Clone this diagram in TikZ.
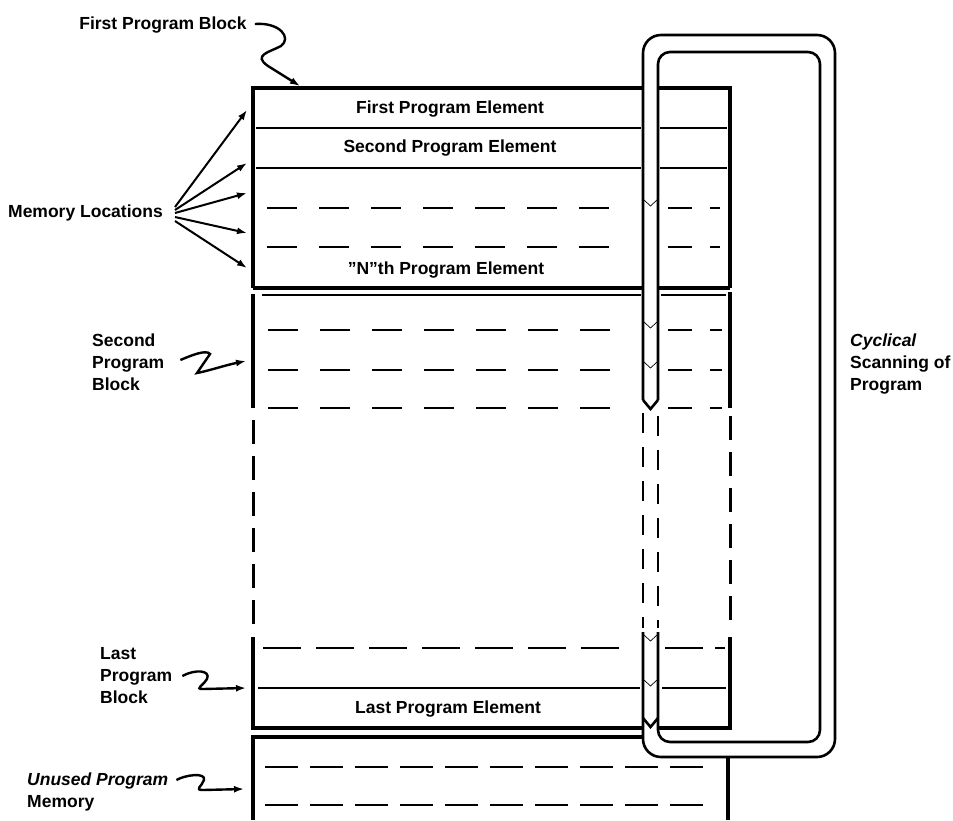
\documentclass[tikz,border=0pt]{standalone}
\usepackage{fontspec}
\setmainfont{Liberation Sans}
\usetikzlibrary{arrows.meta}
\tikzset{
  lbl/.style   ={font=\fontsize{17.5}{22}\selectfont\bfseries, align=left, inner sep=0pt},
  elem/.style  ={lbl, align=center},
  edge/.style  ={line width=3.6pt},
  sep/.style   ={line width=2.2pt},
  dsh/.style   ={line width=2.2pt, dash pattern=on 30pt off 22pt},
  vdsh/.style  ={line width=3pt, dash pattern=on 24pt off 12pt},
  tube/.style  ={line width=2.6pt},
  notch/.style ={line width=0.7pt},
  arr/.style   ={-{Latex[length=10pt,width=7pt]}, line width=2pt},
  squig/.style ={arr, line width=2.4pt},
}

\begin{document}
\begin{tikzpicture}[x=1pt, y=-1pt]
  \useasboundingbox (0,0) rectangle (953,820);

  % first program block
  \draw[edge] (253,288) -- (253,88) -- (643,88);
  \draw[edge] (658,88) -- (730,88) -- (730,288);
  \draw[edge] (253,288) -- (643,288) (658,288) -- (730,288);
  \draw[sep] (256,128) -- (641,128) (660,128) -- (727,128);
  \draw[sep] (256,168) -- (641,168) (660,168) -- (727,168);
  \foreach \y in {208,247} {
    \draw[dsh] (267,\y) -- (609,\y);
    \draw[dsh, dash pattern=on 24pt off 18pt] (668,\y) -- (720,\y);
  }
  \node[elem] (firstel) at (450,109) {First Program Element};
  \node[elem] (secondel) at (450,148) {Second Program Element};
  \node[elem] (nthel) at (446,270) {''N''th Program Element};

  % second program block
  \draw[sep, line width=2.6pt] (262,295) -- (641,295) (661,295) -- (726,295);
  \draw[edge] (253,294) -- (253,408);
  \draw[edge] (730,292) -- (730,408);
  \foreach \y in {330,370,408} {
    \draw[dsh] (268,\y) -- (610,\y);
    \draw[dsh, dash pattern=on 24pt off 18pt] (668,\y) -- (722,\y);
  }

  % blocks in between
  \draw[vdsh] (253,420) -- (253,624);
  \draw[vdsh] (730,416) -- (730,622);
  \draw[vdsh, line width=2.6pt, dash pattern=on 20pt off 14pt]
       (643,413) -- (643,628) (658,416) -- (658,628);

  % last program block
  \draw[edge] (253,637) -- (253,728) -- (643,728);
  \draw[edge] (658,728) -- (730,728) -- (730,637);
  \draw[dsh, dash pattern=on 38pt off 15pt] (263,648) -- (620,648);
  \draw[dsh, dash pattern=on 38pt off 12pt] (665,648) -- (725,648);
  \draw[sep] (258,688) -- (640,688) (662,688) -- (726,688);
  \node[elem] (lastel) at (448,709) {Last Program Element};

  % unused program memory
  \draw[edge] (253,820) -- (253,737) -- (643,737);
  \draw[edge] (728,758) -- (728,820);
  \foreach \y in {767,805}
    \draw[dsh, dash pattern=on 33pt off 12pt] (265,\y) -- (715,\y);

  % scanning loop
  \draw[tube, rounded corners=18pt] (643,400) |- (835,35) |- (643,757) -- (643,632);
  \draw[tube, rounded corners=12pt] (658,400) |- (820,52) |- (658,742) -- (658,632);
  \draw[tube] (643,400) -- (650.5,409) -- (658,400);
  \draw[tube] (643,718) -- (650.5,727) -- (658,718);
  \foreach \y in {206,328,368,641,686}
    \draw[notch] (644,{\y-6}) -- (650.5,\y) -- (657,{\y-6});

  % labels
  \node[lbl] (fpb) at (163,25) {First Program Block};
  \node[lbl, anchor=east] (memloc) at (163,213) {Memory Locations};
  \node[lbl, anchor=west] (spb) at (92,362) {Second\\Program\\Block};
  \node[lbl, anchor=west] (lpb) at (100,676) {Last\\Program\\Block};
  \node[lbl, anchor=west] (upm) at (27,792) {\textit{Unused Program}\\Memory};
  \node[lbl, anchor=west] (csp) at (850,364) {\textit{Cyclical}\\Scanning of\\Program};

  \coordinate (fpbtip) at (300,86);
  \coordinate (spbtip) at (246,361);
  \coordinate (lpbtip) at (246,688);
  \coordinate (upmtip) at (244,789);

  % pointers
  \draw[squig] (fpb.east) ++(8,-1) .. controls (280,22) and (292,38) .. (281,46)
       .. controls (270,52) and (252,55) .. (268,66) -- (fpbtip);
  \draw[squig] (spb.east) ++(16,-2) .. controls (190,356) and (206,349) .. (210,354)
       -- (197,373) .. controls (208,371) and (226,365) .. (spbtip);
  \draw[squig] (lpb.east) ++(10,0) .. controls (195,669) and (211,670) .. (207,679)
       .. controls (204,685) and (194,689) .. (203,689) -- (lpbtip);
  \draw[squig] (upm.east) ++(8,-12) .. controls (185,775) and (206,772) .. (204,780)
       .. controls (202,786) and (194,790) .. (203,790) -- (upmtip);
  \foreach \i/\ty/\dy in {1/110/-6, 2/163/-3, 3/193/0, 4/233/4, 5/268/8} {
    \coordinate (ml\i) at (247,\ty);
    \draw[arr] ([shift={(12,\dy)}]memloc.east) -- (ml\i);
  }
\end{tikzpicture}
\end{document}
